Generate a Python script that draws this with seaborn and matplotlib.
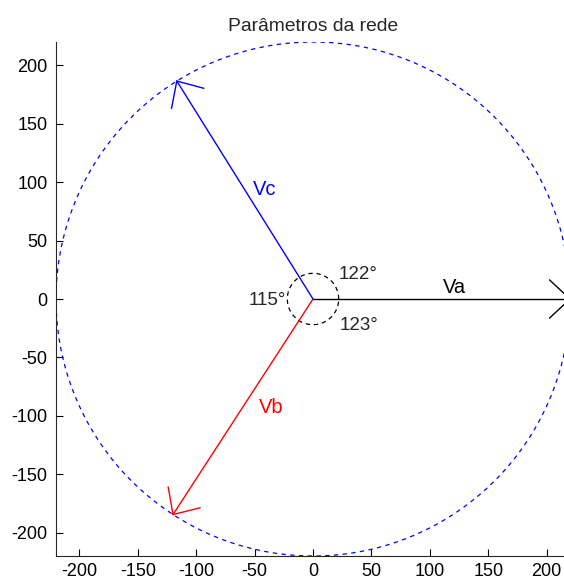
"""
Phasor diagram of the network voltages.

"""
import numpy as np
import pandas as pd
import matplotlib
matplotlib.use('Agg')
import matplotlib.pyplot as plt
import seaborn as sns

PHASES = ['Va', 'Vb', 'Vc']
MAGNITUDES = [220, 220, 220]
ANGLES_DEG = [0, -123, 122]
COLORS = ['black', 'red', 'blue']

ANGLE_LABELS = ['122°', '115°', '123°']
TICKS = [-200, -150, -100, -50, 0, 50, 100, 150, 200]


def vector_table():
    """
    Shaft and two barbs for each phasor, as rows for lineplot.
    """
    rows = []
    for name, mag, ang in zip(PHASES, MAGNITUDES, ANGLES_DEG):
        a = np.deg2rad(ang)
        tx, ty = mag * np.cos(a), mag * np.sin(a)
        rows.append([name, 'shaft', 0, 0.0, 0.0])
        rows.append([name, 'shaft', 1, tx, ty])
        for side, off in [('b1', 43), ('b2', -43)]:
            back = a + np.pi + np.deg2rad(off)
            rows.append([name, side, 0, tx, ty])
            rows.append([name, side, 1, tx + 24 * np.cos(back), ty + 24 * np.sin(back)])
    df = pd.DataFrame(rows, columns=['phase', 'part', 'order', 'x', 'y'])
    df['unit'] = df['phase'] + '_' + df['part']
    return df


if __name__ == '__main__':

    sns.set_style('ticks')
    plt.rcParams['font.family'] = ['Liberation Sans', 'DejaVu Sans']
    plt.rcParams['axes.unicode_minus'] = False

    fig = plt.figure(figsize=(5.64, 5.84), dpi=100)
    ax = fig.add_axes([56 / 564, 28 / 584, 514 / 564, 514 / 584])

    # reference circles
    t = np.linspace(0, 2 * np.pi, 200)
    ax.plot(220 * np.cos(t), 220 * np.sin(t), color='blue', lw=0.9, dashes=(3.5, 3.5))
    ax.plot(22 * np.cos(t), 22 * np.sin(t), color='black', lw=0.9, dashes=(3.5, 3.0))

    data = vector_table()
    sns.lineplot(data=data, x='x', y='y', hue='phase', units='unit',
                 estimator=None, sort=False, palette=dict(zip(PHASES, COLORS)),
                 lw=1.0, legend=False, ax=ax)

    ax.text(121.5, 10, 'Va', color='black', fontsize=14.5, ha='center', va='center')
    ax.text(-36, -93, 'Vb', color='red', fontsize=14.5, ha='center', va='center')
    ax.text(-41, 94, 'Vc', color='blue', fontsize=14.5, ha='center', va='center')

    ax.text(38.5, 21, ANGLE_LABELS[0], fontsize=13.5, ha='center', va='center')
    ax.text(-39, -1, ANGLE_LABELS[1], fontsize=13.5, ha='center', va='center')
    ax.text(39, -23, ANGLE_LABELS[2], fontsize=13.5, ha='center', va='center')

    ax.set_xlim(-220, 220)
    ax.set_ylim(-220, 220)
    ax.set_xticks(TICKS)
    ax.set_yticks(TICKS)
    ax.tick_params(direction='in', length=5, width=0.8, labelsize=13, colors='black')
    ax.tick_params(axis='x', pad=5)
    ax.tick_params(axis='y', pad=6)
    ax.set_xlabel('')
    ax.set_ylabel('')
    sns.despine(ax=ax)
    for s in ['left', 'bottom']:
        ax.spines[s].set_linewidth(0.8)
    ax.set_title('Parâmetros da rede', fontsize=13.9, pad=8)

    fig.savefig('out.png', dpi=100)
